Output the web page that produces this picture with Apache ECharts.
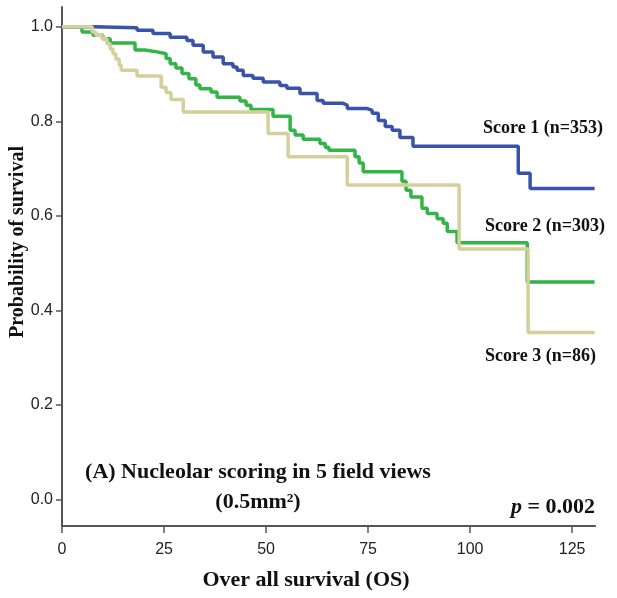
<!DOCTYPE html>
<html>
<head>
<meta charset="utf-8">
<script src="https://cdn.jsdelivr.net/npm/echarts@6/dist/echarts.min.js"></script>
<style>
  html, body { margin: 0; padding: 0; background: #fff; }
  #chart { width: 617px; height: 598px; }
</style>
</head>
<body>
<div id="chart"></div>
<script>
// Kaplan–Meier step data: time (months) and survival probability at each step
const score1Time = [0, 7.6, 18.4, 22.3, 26.5, 30.6, 32.1, 34.6, 37.0, 39.5, 41.9, 42.9, 44.4, 46.8, 49.3, 53.4, 55.1, 58.3, 62.5, 64.0, 68.9, 69.9, 74.8, 76.0, 77.5, 79.2, 80.9, 82.8, 86.0, 111.8, 114.7, 130.5];
const score1Surv = [1.0, 0.998, 0.993, 0.986, 0.978, 0.971, 0.961, 0.947, 0.936, 0.922, 0.915, 0.908, 0.897, 0.891, 0.883, 0.876, 0.870, 0.859, 0.844, 0.838, 0.834, 0.827, 0.823, 0.817, 0.802, 0.789, 0.781, 0.766, 0.747, 0.690, 0.658, 0.658];

const score2Time = [0, 4.9, 7.6, 10.0, 11.8, 17.9, 20.3, 23.3, 25.5, 26.5, 27.9, 29.4, 31.1, 32.8, 33.8, 36.5, 38.0, 43.6, 45.1, 46.3, 51.7, 55.9, 57.1, 59.1, 63.2, 64.5, 65.4, 71.8, 72.8, 73.8, 83.3, 84.3, 85.5, 88.2, 89.5, 91.9, 93.4, 94.4, 96.8, 114.0, 130.5];
const score2Surv = [1.0, 0.989, 0.982, 0.975, 0.966, 0.951, 0.947, 0.943, 0.933, 0.922, 0.913, 0.901, 0.890, 0.877, 0.869, 0.862, 0.851, 0.843, 0.834, 0.825, 0.811, 0.781, 0.771, 0.762, 0.753, 0.745, 0.739, 0.725, 0.712, 0.693, 0.673, 0.654, 0.640, 0.616, 0.605, 0.594, 0.584, 0.567, 0.543, 0.460, 0.460];

const score3Time = [0, 7.4, 8.3, 9.8, 11.0, 11.8, 12.5, 13.2, 14.0, 14.5, 18.4, 24.3, 25.5, 26.7, 29.7, 50.5, 55.4, 69.9, 97.3, 114.2, 130.5];
const score3Surv = [1.0, 0.989, 0.982, 0.975, 0.964, 0.953, 0.943, 0.932, 0.919, 0.908, 0.896, 0.872, 0.861, 0.846, 0.820, 0.774, 0.725, 0.665, 0.530, 0.353, 0.353];

const xTicks = [0, 25, 50, 75, 100, 125];
const yTicks = [0.0, 0.2, 0.4, 0.6, 0.8, 1.0];

const seriesNames = ['Score 1 (n=353)', 'Score 2 (n=303)', 'Score 3 (n=86)'];
const seriesColors = ['#3a52aa', '#32b446', '#d6ce9b'];

function pairs(t, s) { return t.map((v, i) => [v, s[i]]); }

const serif = '"Liberation Serif", "Times New Roman", serif';
const sans = '"Liberation Sans", Arial, sans-serif';

const chart = echarts.init(document.getElementById('chart'));

const curves = [pairs(score1Time, score1Surv), pairs(score2Time, score2Surv), pairs(score3Time, score3Surv)];

chart.setOption({
  animation: false,
  backgroundColor: '#ffffff',
  grid: { left: 62, right: 22, top: 7, bottom: 72 },
  xAxis: {
    type: 'value',
    min: 0,
    max: 130.6,
    axisLine: { onZero: false, lineStyle: { color: '#555', width: 2 } },
    axisTick: { customValues: xTicks, length: 7, lineStyle: { color: '#555', width: 1.5 } },
    axisLabel: { customValues: xTicks, margin: 16, color: '#222', fontFamily: sans, fontSize: 16 },
    splitLine: { show: false }
  },
  yAxis: {
    type: 'value',
    min: -0.0566,
    max: 1.042,
    axisLine: { show: true, onZero: false, lineStyle: { color: '#555', width: 2 } },
    axisTick: { show: true, customValues: yTicks, length: 6, lineStyle: { color: '#555', width: 1.5 } },
    axisLabel: {
      customValues: yTicks, margin: 9, color: '#222', fontFamily: sans, fontSize: 16,
      formatter: v => v.toFixed(1)
    },
    splitLine: { show: false }
  },
  series: curves.map((d, i) => ({
    name: seriesNames[i],
    type: 'line',
    step: 'end',
    data: d,
    showSymbol: false,
    z: 2 + i,
    lineStyle: { color: seriesColors[i], width: 3.5 }
  })),
  graphic: [
    { type: 'text', left: 483, top: 119, z: 10,
      style: { text: seriesNames[0], fill: '#111', font: 'bold 18px ' + serif } },
    { type: 'text', left: 485, top: 217, z: 10,
      style: { text: seriesNames[1], fill: '#111', font: 'bold 18px ' + serif } },
    { type: 'text', left: 485, top: 347, z: 10,
      style: { text: seriesNames[2], fill: '#111', font: 'bold 18px ' + serif } },
    { type: 'text', x: 258, y: 472, z: 10,
      style: { text: '(A) Nucleolar scoring in 5 field views', fill: '#111', font: 'bold 22px ' + serif,
               align: 'center', verticalAlign: 'middle' } },
    { type: 'text', x: 258, y: 502, z: 10,
      style: { text: '(0.5mm²)', fill: '#111', font: 'bold 22px ' + serif,
               align: 'center', verticalAlign: 'middle' } },
    { type: 'text', x: 595, y: 507, z: 10,
      style: {
        text: '{i|p} = 0.002', align: 'right', verticalAlign: 'middle',
        fill: '#111', font: 'bold 22px ' + serif,
        rich: { i: { fontStyle: 'italic', fontWeight: 'bold', fontSize: 22, fontFamily: serif, fill: '#111' } }
      } },
    { type: 'text', x: 18, y: 242, rotation: Math.PI / 2, z: 10,
      style: { text: 'Probability of survival', fill: '#111', font: 'bold 20px ' + serif,
               align: 'center', verticalAlign: 'middle' } },
    { type: 'text', x: 306, y: 580, z: 10,
      style: { text: 'Over all survival (OS)', fill: '#111', font: 'bold 22px ' + serif,
               align: 'center', verticalAlign: 'middle' } }
  ]
});
</script>
</body>
</html>
